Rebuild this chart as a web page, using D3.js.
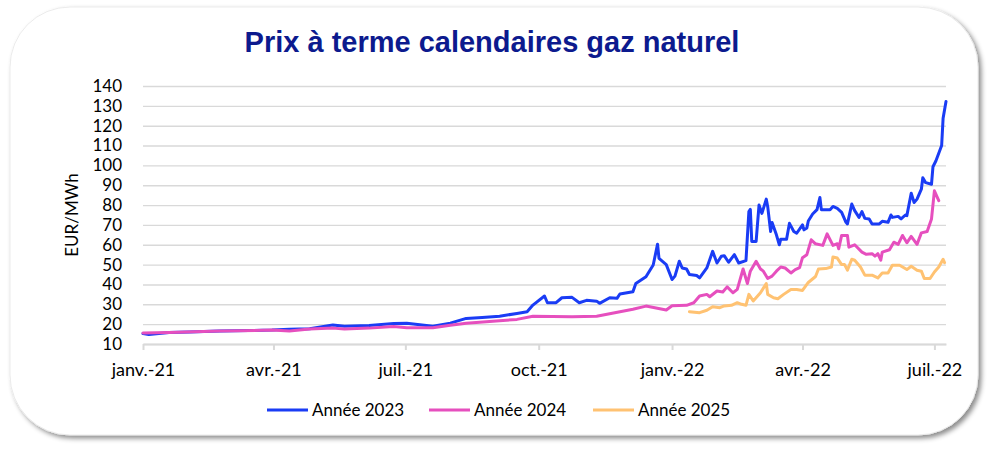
<!DOCTYPE html>
<html>
<head>
<meta charset="utf-8">
<script src="https://cdn.jsdelivr.net/npm/d3@7"></script>
<style>
	body { margin: 0; background: #fff; }
	svg { display: block; }
	text { font-family: Lato, "Open Sans", sans-serif; fill: #000; }
</style>
</head>
<body>
<div id="chart"></div>
<script>
// Calendar forward prices, EUR/MWh
var dates2023 = ["2021-01-01","2021-01-05","2021-01-19","2021-02-02","2021-02-23","2021-03-15","2021-03-31","2021-04-12","2021-04-26","2021-05-12","2021-05-20","2021-06-06","2021-06-23","2021-07-02","2021-07-20","2021-08-01","2021-08-12","2021-08-23","2021-09-04","2021-09-16","2021-09-23","2021-09-27","2021-10-05","2021-10-07","2021-10-13","2021-10-17","2021-10-24","2021-10-29","2021-11-03","2021-11-10","2021-11-12","2021-11-19","2021-11-24","2021-11-26","2021-12-05","2021-12-07","2021-12-14","2021-12-19","2021-12-22","2021-12-23","2021-12-28","2022-01-01","2022-01-03","2022-01-06","2022-01-08","2022-01-11","2022-01-13","2022-01-18","2022-01-20","2022-01-25","2022-01-29","2022-02-01","2022-02-04","2022-02-06","2022-02-09","2022-02-13","2022-02-16","2022-02-21","2022-02-23","2022-02-24","2022-02-25","2022-02-28","2022-03-02","2022-03-04","2022-03-07","2022-03-08","2022-03-10","2022-03-11","2022-03-14","2022-03-16","2022-03-17","2022-03-21","2022-03-23","2022-03-26","2022-03-28","2022-04-01","2022-04-02","2022-04-04","2022-04-05","2022-04-08","2022-04-11","2022-04-13","2022-04-14","2022-04-20","2022-04-22","2022-04-25","2022-04-28","2022-05-01","2022-05-02","2022-05-05","2022-05-07","2022-05-10","2022-05-12","2022-05-14","2022-05-17","2022-05-19","2022-05-24","2022-05-26","2022-05-30","2022-06-01","2022-06-02","2022-06-06","2022-06-08","2022-06-11","2022-06-12","2022-06-15","2022-06-17","2022-06-19","2022-06-22","2022-06-23","2022-06-25","2022-06-29","2022-06-30","2022-07-02","2022-07-06","2022-07-07","2022-07-09"];
var values2023 = [15.3,14.8,15.8,16.0,16.5,16.8,17.0,17.4,17.7,19.6,19.0,19.3,20.3,20.4,19.0,20.5,22.9,23.4,24.0,25.4,26.3,29.6,34.2,30.8,30.8,33.3,33.5,30.8,32.0,31.6,30.5,33.3,33.0,35.2,36.3,40.5,43.9,49.8,60.3,53.1,50.0,42.5,44.2,51.7,48.3,47.8,45.0,44.5,43.3,48.3,56.7,50.8,54.2,54.5,51.2,55.0,50.8,52.0,76.7,77.8,61.7,61.7,80.0,75.8,83.0,79.2,66.7,71.2,65.0,60.0,62.8,62.8,70.8,66.7,65.8,70.0,67.5,68.5,72.0,75.5,77.7,83.8,77.7,77.7,79.3,78.3,76.3,71.3,70.5,80.5,77.2,73.8,76.7,73.3,73.0,70.5,70.5,71.8,71.3,75.0,73.8,74.3,73.0,75.0,74.7,86.0,81.3,83.0,88.0,93.8,91.3,90.5,99.3,102.2,110.0,123.8,132.2];

var dates2024 = ["2021-01-01","2021-01-19","2021-02-23","2021-03-31","2021-04-12","2021-04-26","2021-05-12","2021-05-20","2021-06-06","2021-06-23","2021-07-02","2021-07-20","2021-08-01","2021-08-12","2021-09-04","2021-09-16","2021-09-27","2021-10-24","2021-11-10","2021-12-05","2021-12-14","2021-12-28","2022-01-01","2022-01-11","2022-01-16","2022-01-20","2022-01-25","2022-01-27","2022-02-01","2022-02-05","2022-02-08","2022-02-12","2022-02-15","2022-02-19","2022-02-22","2022-02-24","2022-02-28","2022-03-03","2022-03-05","2022-03-08","2022-03-11","2022-03-14","2022-03-17","2022-03-20","2022-03-24","2022-03-27","2022-03-30","2022-04-01","2022-04-04","2022-04-07","2022-04-10","2022-04-15","2022-04-18","2022-04-22","2022-04-25","2022-04-26","2022-04-28","2022-05-02","2022-05-03","2022-05-07","2022-05-12","2022-05-15","2022-05-19","2022-05-21","2022-05-23","2022-05-25","2022-05-26","2022-05-31","2022-06-03","2022-06-06","2022-06-09","2022-06-12","2022-06-15","2022-06-19","2022-06-22","2022-06-26","2022-06-29","2022-07-01","2022-07-04"];
var values2024 = [15.5,15.8,16.5,17.0,16.5,17.5,18.0,17.5,18.0,18.8,18.2,18.2,19.5,20.4,21.7,22.4,24.0,23.7,24.0,27.5,29.1,27.1,29.3,29.5,30.8,34.2,35.0,33.8,36.7,36.2,38.8,35.8,37.5,47.8,40.5,46.7,51.7,47.8,46.7,43.0,44.2,46.7,48.8,48.3,45.8,47.5,48.5,53.5,55.0,62.5,60.5,59.7,65.5,59.7,60.5,58.0,64.7,64.7,58.8,60.0,56.3,55.2,55.5,54.3,55.5,52.2,56.3,57.5,61.3,60.2,64.7,61.0,64.2,60.2,66.0,66.7,73.0,87.2,82.2];

var dates2025 = ["2022-01-13","2022-01-20","2022-01-25","2022-01-29","2022-02-03","2022-02-06","2022-02-11","2022-02-15","2022-02-18","2022-02-21","2022-02-23","2022-02-26","2022-03-03","2022-03-07","2022-03-08","2022-03-12","2022-03-15","2022-03-19","2022-03-24","2022-03-28","2022-04-01","2022-04-05","2022-04-10","2022-04-12","2022-04-17","2022-04-21","2022-04-22","2022-04-25","2022-04-28","2022-04-30","2022-05-02","2022-05-05","2022-05-07","2022-05-11","2022-05-14","2022-05-19","2022-05-23","2022-05-26","2022-05-30","2022-06-02","2022-06-07","2022-06-12","2022-06-15","2022-06-19","2022-06-22","2022-06-24","2022-06-28","2022-07-01","2022-07-04","2022-07-07","2022-07-08"];
var values2025 = [26.3,25.8,27.0,28.8,28.3,29.2,29.5,30.8,30.0,29.5,35.0,31.7,35.8,40.5,35.0,33.3,32.8,35.0,37.5,37.5,37.0,41.0,44.0,47.8,48.0,48.8,53.8,53.3,50.0,50.0,47.2,52.7,52.2,48.8,44.7,44.7,43.3,45.8,45.8,49.7,49.7,47.5,49.2,47.2,46.7,43.0,43.0,46.3,48.8,52.7,51.0];

var seriesNames = ["Année 2023", "Année 2024", "Année 2025"];
var seriesColors = ["#1a3cf5", "#e64fbe", "#ffc272"];

var yTicks = [10, 20, 30, 40, 50, 60, 70, 80, 90, 100, 110, 120, 130, 140];
var tickDates = ["2021-01-01", "2021-04-01", "2021-07-01", "2021-10-01", "2022-01-01", "2022-04-01", "2022-07-01"];
var tickLabels = ["janv.-21", "avr.-21", "juil.-21", "oct.-21", "janv.-22", "avr.-22", "juil.-22"];

var W = 992, H = 455;
var margin = { left: 143, right: 46, top: 86, bottom: 111 };

var parse = d3.timeParse("%Y-%m-%d");

function toPoints(dates, values) {
	return dates.map(function(d, i) {
		return { date: parse(d), value: values[i] };
	});
}

var series = [
	toPoints(dates2023, values2023),
	toPoints(dates2024, values2024),
	toPoints(dates2025, values2025)
];

var svg = d3.select("#chart").append("svg")
	.attr("width", W)
	.attr("height", H);

// soft shadow under the rounded frame
var defs = svg.append("defs");
var f = defs.append("filter")
	.attr("id", "shadow")
	.attr("x", "-5%").attr("y", "-5%")
	.attr("width", "110%").attr("height", "115%");
f.append("feDropShadow")
	.attr("dx", 3).attr("dy", 3)
	.attr("stdDeviation", 2.5)
	.attr("flood-color", "#000")
	.attr("flood-opacity", 0.45);

svg.append("rect")
	.attr("x", 10).attr("y", 7)
	.attr("width", 968).attr("height", 428)
	.attr("rx", 60).attr("ry", 60)
	.attr("fill", "#fff")
	.attr("stroke", "#e6e6e6")
	.attr("stroke-width", 0.8)
	.attr("filter", "url(#shadow)");

svg.append("text")
	.attr("x", 492)
	.attr("y", 52)
	.attr("text-anchor", "middle")
	.style("font-family", "'Liberation Sans', Arial, sans-serif")
	.style("font-weight", "bold")
	.style("font-size", "29px")
	.style("fill", "#0c1a8e")
	.text("Prix à terme calendaires gaz naturel");

var x = d3.scaleTime()
	.domain([parse("2021-01-01"), parse("2022-07-09")])
	.range([margin.left, W - margin.right]);

var y = d3.scaleLinear()
	.domain([10, 140])
	.range([H - margin.bottom, margin.top]);

var plotW = W - margin.right - margin.left;

// horizontal gridlines
var grid = svg.append("g")
	.attr("transform", "translate(" + margin.left + ",0)")
	.call(d3.axisLeft(y).tickValues(yTicks).tickSize(-plotW).tickFormat(""));
grid.select(".domain").remove();
grid.selectAll("line")
	.attr("stroke", "#d9d9d9")
	.attr("stroke-width", 1.4);

// y labels
var yAxis = svg.append("g")
	.attr("transform", "translate(" + margin.left + ",0)")
	.call(d3.axisLeft(y).tickValues(yTicks).tickSize(0).tickPadding(21));
yAxis.select(".domain").remove();
yAxis.selectAll("text")
	.style("font-size", "17px")
	.style("fill", "#000");

svg.append("text")
	.attr("transform", "translate(72," + 215 + ") rotate(-90)")
	.attr("text-anchor", "middle")
	.attr("dy", "0.35em")
	.style("font-size", "17px")
	.text("EUR/MWh");

// x axis
var xAxis = svg.append("g")
	.attr("transform", "translate(0," + y(10) + ")")
	.call(d3.axisBottom(x)
		.tickValues(tickDates.map(parse))
		.tickFormat(function(d, i) { return tickLabels[i]; })
		.tickSize(6)
		.tickSizeOuter(0));
xAxis.select(".domain")
	.attr("stroke", "#d9d9d9")
	.attr("stroke-width", 2.2);
xAxis.selectAll(".tick line")
	.attr("stroke", "#d9d9d9")
	.attr("stroke-width", 2);
xAxis.selectAll("text")
	.attr("y", 32)
	.attr("dy", null)
	.style("font-size", "18px")
	.style("fill", "#000");

// lines
var line = d3.line()
	.x(function(d) { return x(d.date); })
	.y(function(d) { return y(d.value); });

svg.append("g").selectAll("path")
	.data(series)
	.enter().append("path")
	.attr("d", line)
	.attr("fill", "none")
	.attr("stroke", function(d, i) { return seriesColors[i]; })
	.attr("stroke-width", 3)
	.attr("stroke-linejoin", "round")
	.attr("stroke-linecap", "round");

// legend
var legendX = [267, 429, 593];
var legend = svg.append("g").selectAll("g")
	.data(seriesNames)
	.enter().append("g")
	.attr("transform", function(d, i) { return "translate(" + legendX[i] + ",410)"; });
legend.append("line")
	.attr("x1", 0).attr("x2", 41)
	.attr("stroke", function(d, i) { return seriesColors[i]; })
	.attr("stroke-width", 3);
legend.append("text")
	.attr("x", 45)
	.attr("y", 6)
	.style("font-size", "17px")
	.text(function(d) { return d; });
</script>
</body>
</html>
